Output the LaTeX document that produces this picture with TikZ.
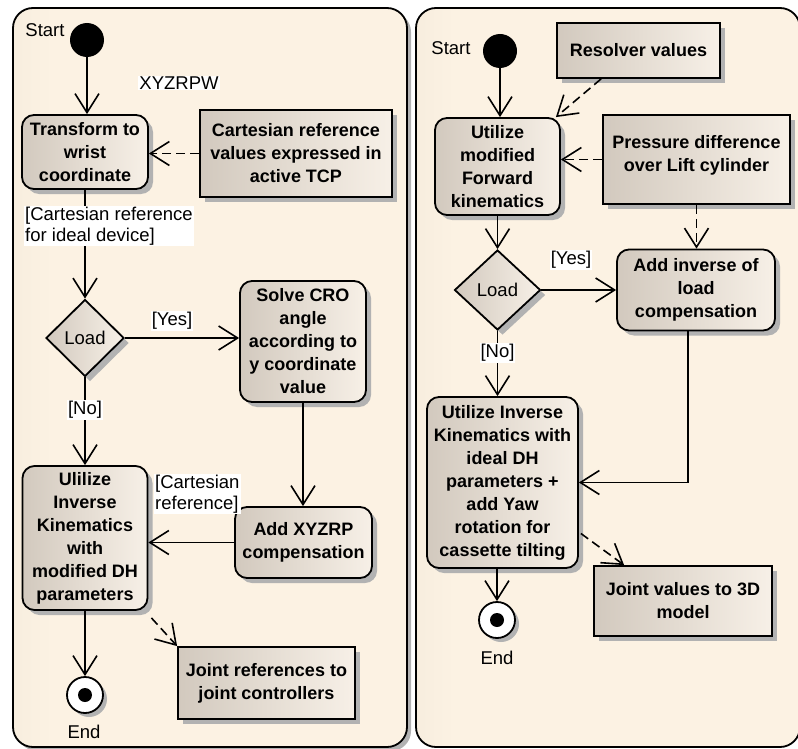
\documentclass[tikz,border=0pt]{standalone}
\usepackage{fontspec}
\setmainfont{Liberation Sans}
\usetikzlibrary{arrows.meta,shapes.geometric,calc}

\definecolor{panelL}{HTML}{E0D7C8}
\definecolor{panelR}{HTML}{FCF2E3}
\definecolor{boxL}{HTML}{D2C9BE}
\definecolor{boxR}{HTML}{F7F0E7}
\definecolor{shadowc}{HTML}{B2B2B2}

\pgfdeclarehorizontalshading{panelshade}{100bp}{color(0bp)=(panelL); color(30bp)=(panelR); color(100bp)=(panelR)}

\tikzset{
  box/.style={draw=black, line width=1.8pt, left color=boxL, right color=boxR,
    inner sep=0pt, align=center, font=\fontsize{18}{23}\selectfont\bfseries,
    preaction={fill=shadowc, transform canvas={shift={(5pt,-5pt)}}}},
  act/.style={box, rounded corners=12pt},
  obj/.style={box},
  dec/.style={box, diamond, aspect=1, font=\fontsize{18.5}{21}\selectfont},
  startdot/.style={circle, fill=black, minimum size=34pt, inner sep=0pt},
  enddot/.style={circle, draw=black, line width=1.8pt, fill=white, minimum size=36pt, inner sep=0pt,
    preaction={fill=shadowc, transform canvas={shift={(4pt,-4pt)}}}},
  flow/.style={line width=1.6pt, -{Straight Barb[length=19pt,width=24pt,line width=1.6pt]}},
  dflow/.style={flow, dash pattern=on 9pt off 5pt},
  lbl/.style={font=\fontsize{18.5}{21}\selectfont, inner sep=1pt},
  glbl/.style={lbl, fill=white, align=left},
  panel/.style={draw=black, line width=1.8pt, rounded corners=20pt, shading=panelshade},
}

\begin{document}
\begin{tikzpicture}[x=1pt, y=-1pt]
\useasboundingbox (0,0) rectangle (798,749);
\fill[white] (0,0) rectangle (798,749);

% panels
\fill[shadowc, rounded corners=20pt] (17,12) rectangle (411,751);
\draw[panel] (13,8) rectangle (407,747);
\draw[panel] (416,8) rectangle (800,747);

% ---------- left diagram ----------
\node[startdot] (ST1) at (87,40) {};
\node[act, minimum width=126pt, minimum height=74pt] (T1) at (85,152) {Transform to\\wrist\\coordinate};
\node[obj, minimum width=192pt, minimum height=87pt] (C1) at (296,153.5) {Cartesian reference\\values expressed in\\active TCP};
\node[dec, minimum width=78pt, minimum height=77pt] (L1) at (85,338) {Load};
\node[act, minimum width=126pt, minimum height=121pt] (S1) at (303,341.5) {Solve CRO\\angle\\according to\\y coordinate\\value};
\node[act, minimum width=125pt, minimum height=144pt] (U1) at (85,538) {Ulilize\\Inverse\\Kinematics\\with\\modified DH\\parameters};
\node[act, minimum width=137pt, minimum height=71pt] (A1) at (303.5,542.5) {Add XYZRP\\compensation};
\node[obj, minimum width=177pt, minimum height=72pt] (J1) at (266.5,683) {Joint references to\\joint controllers};
\node[enddot] (E1) at (85,695) {};
\fill (E1) circle (7pt);

\draw[flow] (ST1) -- (ST1 |- T1.north);
\draw[dflow] (C1.west) -- (C1.west -| T1.east);
\draw[flow] (T1.south) -- (L1.north);
\draw[flow] (L1.east) -- (L1.east -| S1.west);
\draw[flow] (L1.south) -- (L1.south |- U1.north);
\draw[flow] (S1.south) -- (S1.south |- A1.north);
\draw[flow] (A1.west) -- (A1.west -| U1.east);
\draw[flow] (E1 |- U1.south) -- (E1);
\draw[dflow] ($(U1.south east)+(3,7)$) -- (J1.north west);

\node[lbl] (st1l) at (45,30) {Start};
\node[glbl] (xyz) at (179,83) {XYZRPW};
\node[glbl, anchor=north west] (cr1) at (24,206) {[Cartesian reference\\for ideal device]};
\node[glbl] (yes1) at (172,321) {[Yes]};
\node[glbl] (no1) at (85,410) {[No]};
\node[glbl, anchor=north west] (cr2) at (154,474) {[Cartesian\\reference]};
\node[lbl] (end1l) at (84,732) {End};

% ---------- right diagram ----------
\node[startdot] (ST2) at (500,51) {};
\node[obj, minimum width=163pt, minimum height=55pt] (R) at (638.5,50.5) {Resolver values};
\node[act, minimum width=125pt, minimum height=97pt] (F) at (497.5,166.5) {Utilize\\modified\\Forward\\kinematics};
\node[obj, minimum width=187pt, minimum height=89pt] (P) at (696.5,159.5) {Pressure difference\\over Lift cylinder\\[-11pt]\mbox{}};
\node[dec, minimum width=86pt, minimum height=80pt] (L2) at (497.5,290) {Load};
\node[act, minimum width=158pt, minimum height=81pt] (AI) at (696,290) {Add inverse of\\load\\compensation};
\node[act, minimum width=151pt, minimum height=171pt] (I) at (502.5,482.5) {Utilize Inverse\\Kinematics with\\ideal DH\\parameters +\\add Yaw\\rotation for\\cassette tilting};
\node[obj, minimum width=178pt, minimum height=70pt] (JV) at (683,601) {Joint values to 3D\\model};
\node[enddot] (E2) at (497,620) {};
\fill (E2) circle (7pt);

\draw[flow] (ST2) -- (ST2 |- F.north);
\draw[dflow] ($(R.south west)+(45,0)$) -- ($(F.north east)+(-5,0)$);
\draw[dflow] (P.west) -- (P.west -| F.east);
\draw[dflow] (P.south) -- (P.south |- AI.north);
\draw[flow] (F.south) -- (L2.north);
\draw[flow] (L2.east) -- (AI.west);
\draw[flow] (L2.south) -- (L2.south |- I.north);
\draw[flow] ($(AI.south)+(-8,0)$) |- (I.east);
\draw[flow] (E2 |- I.south) -- (E2);
\draw[dflow] ($(I.east)+(2,51)$) -- ($(JV.north west)+(31,0)$);

\node[lbl] (st2l) at (451,48) {Start};
\node[glbl] (yes2) at (571,260) {[Yes]};
\node[glbl] (no2) at (497.5,353) {[No]};
\node[lbl] (end2l) at (497,658) {End};
\end{tikzpicture}
\end{document}
